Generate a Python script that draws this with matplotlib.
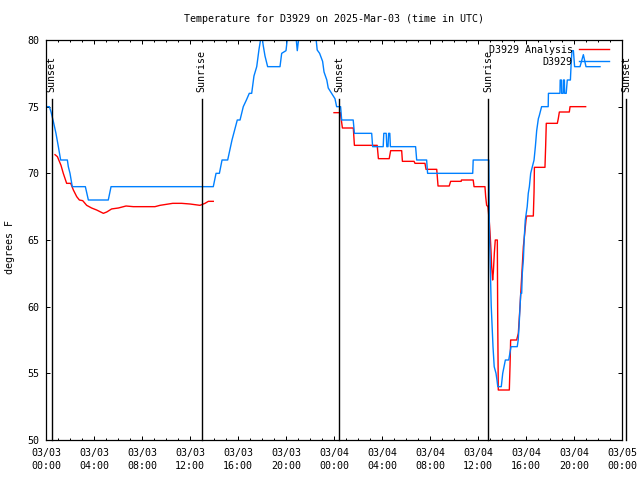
import numpy as np
import matplotlib
matplotlib.use("Agg")
import matplotlib.pyplot as plt

plt.rcParams["font.family"] = ["DejaVu Sans Mono"]
plt.rcParams["font.size"] = 7.2

# hours since 2025-03-03 00:00 UTC
obs_hours = [0.08, 0.28, 0.42, 0.61, 0.83, 1.03, 1.22, 1.78, 1.86, 2.0, 2.19, 3.28, 3.53, 5.19, 5.42,
             13.94, 14.17, 14.45, 14.67, 15.14, 15.5, 15.94, 16.17, 16.44, 16.7, 16.94, 17.14, 17.33,
             17.56, 17.75, 17.97, 18.1, 18.25, 18.47, 19.5, 19.64, 20.0, 20.1, 20.2, 20.75, 20.94,
             21.17, 22.4, 22.6, 22.8, 23.05, 23.17, 23.4, 23.52, 23.8, 24.08, 24.22, 24.55, 24.64,
             25.6, 25.7, 27.14, 27.22, 28.1, 28.15, 28.35, 28.4, 28.5, 28.55, 28.65, 28.7, 30.8,
             30.89, 31.72, 31.8, 35.56, 35.6, 36.9, 36.95, 37.1, 37.25, 37.35, 37.5, 37.58, 37.65,
             37.94, 38.06, 38.17, 38.28, 38.56, 38.75, 39.27, 39.35, 39.42, 39.5, 39.56, 39.64,
             39.69, 39.78, 39.86, 39.94, 40.06, 40.1, 40.19, 40.28, 40.39, 40.53, 40.67, 40.78,
             40.89, 41.03, 41.1, 41.3, 41.85, 41.87, 42.83, 42.85, 42.95, 42.97, 43.1, 43.12, 43.2,
             43.22, 43.35, 43.44, 43.7, 43.75, 43.83, 43.95, 44.05, 44.5, 44.78, 45.0, 46.17]
obs_temps = [75.0, 75.0, 74.6, 73.9, 73.0, 72.0, 71.0, 71.0, 70.5, 70.0, 69.0, 69.0, 68.0, 68.0, 69.0,
             69.0, 70.0, 70.0, 71.0, 71.0, 72.5, 74.0, 74.0, 75.0, 75.5, 76.0, 76.0, 77.3,
             78.0, 79.3, 80.5, 79.6, 78.8, 78.0, 78.0, 79.0, 79.2, 80.0, 81.0, 81.0, 79.2,
             81.0, 81.0, 79.25, 79.0, 78.4, 77.6, 77.0, 76.4, 76.0, 75.6, 75.0, 75.0, 74.0,
             74.0, 73.0, 73.0, 72.0, 72.0, 73.0, 73.0, 72.0, 72.0, 73.0, 73.0, 72.0, 72.0,
             71.0, 71.0, 70.0, 70.0, 71.0, 71.0, 65.75, 60.1, 57.0, 55.5, 55.0, 54.5, 54.0,
             54.0, 55.0, 55.5, 56.0, 56.0, 57.0, 57.0, 57.5, 58.5, 60.0, 61.0, 61.0,
             62.5, 63.5, 65.25, 66.5, 67.25, 67.5, 68.5, 69.0, 70.0, 70.5, 71.0, 72.0,
             73.2, 74.1, 74.3, 75.0, 75.0, 76.0, 76.0, 77.0, 77.0, 76.0, 76.0, 77.0, 77.0,
             76.0, 76.0, 77.0, 77.0, 78.0, 79.2, 79.2, 78.0, 78.0, 78.9, 78.0, 78.0]

ana_hours = [0.75, 0.95, 1.25, 1.44, 1.72, 2.06, 2.28, 2.56, 2.78, 3.06, 3.39, 3.8, 4.22, 4.78, 5.06,
             5.47, 6.03, 6.67, 7.28, 9.08, 9.5, 10.56, 11.3, 12.0, 12.83, 13.25, 13.53, 13.94,
             19.0,
             24.0, 24.53, 24.7, 25.61, 25.7, 27.6, 27.7, 28.6, 28.72, 29.64, 29.7, 30.67, 30.75,
             31.58, 31.67, 32.56, 32.67, 33.6, 33.72, 34.6, 34.62, 35.6, 35.67, 36.58, 36.64, 36.72,
             36.83, 36.94, 37.0, 37.08, 37.14, 37.22, 37.28, 37.36, 37.44, 37.61, 37.64, 37.69,
             38.61, 38.67, 38.72, 39.22, 39.36, 39.5, 39.64, 39.78, 39.92, 40.0, 40.06, 40.61,
             40.67, 40.7, 41.58, 41.64, 41.69, 42.61, 42.69, 42.78, 43.61, 43.67, 44.97]
ana_temps = [71.4, 71.25, 70.6, 70.0, 69.25, 69.25, 68.75, 68.25, 68.0, 67.95, 67.6, 67.4, 67.25, 67.0, 67.1,
             67.33, 67.4, 67.55, 67.5, 67.5, 67.6, 67.75, 67.75, 67.7, 67.6, 67.75, 67.9, 67.9,
             np.nan,
             74.55, 74.55, 73.4, 73.4, 72.1, 72.1, 71.1, 71.1, 71.7, 71.7, 70.9, 70.9, 70.75,
             70.75, 70.3, 70.3, 69.05, 69.05, 69.4, 69.4, 69.5, 69.5, 69.0, 69.0, 68.25, 67.6,
             67.5, 66.4, 65.6, 64.25, 63.0, 62.0, 62.6, 64.0, 65.0, 65.0, 59.5, 53.75,
             53.75, 55.6, 57.5, 57.5, 58.0, 60.0, 62.25, 64.5, 65.75, 66.5, 66.8, 66.8,
             68.6, 70.45, 70.45, 72.1, 73.75, 73.75, 74.1, 74.6, 74.6, 75.0, 75.0]

sun_hours = [0.47, 12.97, 24.44, 36.86, 48.33]
sun_labels = ["Sunset", "Sunrise", "Sunset", "Sunrise", "Sunset"]

tick_hours = list(range(0, 49, 4))
tick_labels = ["03/03\n00:00", "03/03\n04:00", "03/03\n08:00", "03/03\n12:00", "03/03\n16:00",
               "03/03\n20:00", "03/04\n00:00", "03/04\n04:00", "03/04\n08:00", "03/04\n12:00",
               "03/04\n16:00", "03/04\n20:00", "03/05\n00:00"]

fig = plt.figure(figsize=(6.4, 4.8), dpi=100)
ax = fig.add_axes([46 / 640, 40 / 480, 576 / 640, 400 / 480])

ax.plot(ana_hours, ana_temps, color="#ff0000", lw=1.0, label="D3929 Analysis")
ax.plot(obs_hours, obs_temps, color="#0080ff", lw=1.0, label="D3929")

# sunrise / sunset markers
for h, lab in zip(sun_hours, sun_labels):
    ax.plot([h, h], [50, 75.55], color="black", lw=1.0, clip_on=False)
    ax.text(h, 76.1, lab, rotation=90, ha="center", va="bottom", clip_on=False)

ax.set_xlim(0, 48)
ax.set_ylim(50, 80)
ax.set_xticks(tick_hours)
ax.set_xticklabels(tick_labels, linespacing=1.3)
ax.set_xticks(range(0, 49), minor=True)
ax.set_yticks(range(50, 81, 5))

ax.tick_params(which="both", direction="in", top=True, right=True, width=0.72)
ax.tick_params(which="major", length=3.0)
ax.tick_params(which="minor", length=1.6)
ax.tick_params(axis="x", pad=6)
ax.tick_params(axis="y", pad=5)
for s in ax.spines.values():
    s.set_linewidth(0.9)

ax.set_title("Temperature for D3929 on 2025-Mar-03 (time in UTC)", fontsize=7.2, pad=13)
fig.text(10.5 / 640, 1 - 247 / 480, "degrees F", rotation=90, ha="center", va="center")

ax.legend(loc="upper right", bbox_to_anchor=(0.977, 0.988), frameon=False, markerfirst=False,
          borderpad=0, borderaxespad=0, handlelength=3.0, handletextpad=0.6, labelspacing=0.2)

fig.savefig("out.png", dpi=100)
